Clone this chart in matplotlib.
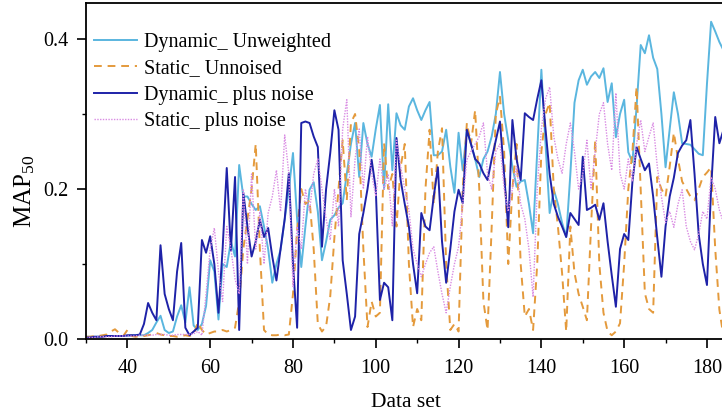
import numpy as np
import matplotlib
matplotlib.use('Agg')
import matplotlib.pyplot as plt
from matplotlib.ticker import MultipleLocator

plt.rcParams['font.family'] = ['Liberation Serif', 'DejaVu Serif']
plt.rcParams['mathtext.fontset'] = 'custom'
plt.rcParams['mathtext.rm'] = 'Liberation Serif'
plt.rcParams['mathtext.it'] = 'Liberation Serif:italic'

# data set index 30..184
data_set = list(range(30, 185))

dyn_unweighted = [
    0.003, 0.003, 0.003, 0.003, 0.004, 0.004, 0.004, 0.004, 0.004, 0.004,
    0.004, 0.005, 0.005, 0.005, 0.005, 0.008, 0.012, 0.022, 0.031, 0.012,
    0.008, 0.010, 0.030, 0.045, 0.022, 0.069, 0.018, 0.012, 0.020, 0.044,
    0.105, 0.090, 0.026, 0.100, 0.096, 0.130, 0.110, 0.232, 0.190, 0.190,
    0.180, 0.172, 0.177, 0.150, 0.120, 0.075, 0.100, 0.119, 0.160, 0.200,
    0.248, 0.160, 0.096, 0.150, 0.199, 0.209, 0.170, 0.105, 0.130, 0.159,
    0.165, 0.175, 0.181, 0.220, 0.260, 0.288, 0.216, 0.288, 0.260, 0.243,
    0.280, 0.312, 0.200, 0.313, 0.225, 0.301, 0.285, 0.279, 0.310, 0.321,
    0.305, 0.292, 0.305, 0.316, 0.245, 0.245, 0.250, 0.279, 0.230, 0.195,
    0.275, 0.225, 0.279, 0.260, 0.240, 0.216, 0.240, 0.250, 0.270, 0.300,
    0.356, 0.300, 0.265, 0.230, 0.203, 0.210, 0.212, 0.180, 0.141, 0.250,
    0.359, 0.260, 0.168, 0.199, 0.180, 0.155, 0.136, 0.220, 0.315, 0.345,
    0.359, 0.339, 0.350, 0.356, 0.348, 0.361, 0.316, 0.341, 0.269, 0.300,
    0.319, 0.249, 0.236, 0.310, 0.392, 0.381, 0.405, 0.375, 0.360, 0.300,
    0.229, 0.280, 0.329, 0.300, 0.261, 0.260, 0.259, 0.253, 0.247, 0.245,
    0.340, 0.423, 0.410, 0.396, 0.385]

static_unnoised = [
    0.003, 0.003, 0.004, 0.004, 0.005, 0.006, 0.010, 0.013, 0.008, 0.004,
    0.012, 0.004, 0.003, 0.004, 0.004, 0.005, 0.006, 0.008, 0.006, 0.005,
    0.004, 0.004, 0.003, 0.004, 0.005, 0.004, 0.006, 0.022, 0.012, 0.006,
    0.008, 0.010, 0.010, 0.012, 0.010, 0.012, 0.015, 0.050, 0.120, 0.160,
    0.200, 0.260, 0.120, 0.012, 0.006, 0.005, 0.005, 0.006, 0.005, 0.006,
    0.060, 0.145, 0.200, 0.180, 0.185, 0.120, 0.020, 0.010, 0.017, 0.057,
    0.135, 0.200, 0.265, 0.185, 0.288, 0.300, 0.252, 0.120, 0.016, 0.050,
    0.030, 0.035, 0.261, 0.200, 0.220, 0.150, 0.230, 0.260, 0.100, 0.016,
    0.040, 0.025, 0.200, 0.279, 0.180, 0.250, 0.281, 0.100, 0.012, 0.020,
    0.010, 0.200, 0.288, 0.260, 0.305, 0.200, 0.050, 0.012, 0.150, 0.300,
    0.323, 0.250, 0.100, 0.200, 0.260, 0.100, 0.030, 0.040, 0.012, 0.100,
    0.250, 0.300, 0.315, 0.200, 0.150, 0.088, 0.010, 0.150, 0.088, 0.060,
    0.043, 0.025, 0.150, 0.265, 0.100, 0.035, 0.010, 0.005, 0.010, 0.021,
    0.100, 0.200, 0.250, 0.336, 0.200, 0.061, 0.040, 0.035, 0.216, 0.200,
    0.190, 0.230, 0.275, 0.240, 0.210, 0.200, 0.190, 0.185, 0.200, 0.216,
    0.222, 0.229, 0.120, 0.039, 0.003]

dyn_plus_noise = [
    0.002, 0.002, 0.003, 0.003, 0.003, 0.004, 0.004, 0.004, 0.004, 0.004,
    0.005, 0.005, 0.005, 0.006, 0.020, 0.048, 0.035, 0.025, 0.125, 0.060,
    0.040, 0.025, 0.090, 0.128, 0.015, 0.005, 0.010, 0.015, 0.132, 0.115,
    0.137, 0.100, 0.035, 0.120, 0.228, 0.118, 0.216, 0.012, 0.195, 0.150,
    0.110, 0.130, 0.159, 0.136, 0.148, 0.110, 0.078, 0.120, 0.160, 0.221,
    0.100, 0.015, 0.288, 0.290, 0.288, 0.270, 0.256, 0.123, 0.200, 0.248,
    0.305, 0.279, 0.105, 0.060, 0.012, 0.030, 0.140, 0.168, 0.200, 0.239,
    0.200, 0.052, 0.075, 0.069, 0.025, 0.268, 0.212, 0.180, 0.150, 0.100,
    0.061, 0.168, 0.150, 0.145, 0.190, 0.229, 0.130, 0.075, 0.120, 0.170,
    0.199, 0.181, 0.279, 0.260, 0.240, 0.234, 0.221, 0.212, 0.240, 0.265,
    0.290, 0.220, 0.149, 0.292, 0.240, 0.212, 0.301, 0.296, 0.292, 0.320,
    0.345, 0.280, 0.220, 0.180, 0.163, 0.150, 0.136, 0.168, 0.160, 0.152,
    0.243, 0.172, 0.175, 0.179, 0.159, 0.181, 0.130, 0.085, 0.043, 0.120,
    0.140, 0.132, 0.210, 0.256, 0.240, 0.225, 0.234, 0.190, 0.135, 0.083,
    0.150, 0.190, 0.215, 0.248, 0.258, 0.265, 0.292, 0.220, 0.140, 0.100,
    0.072, 0.200, 0.296, 0.261, 0.279]

static_plus_noise = [
    0.002, 0.002, 0.002, 0.003, 0.003, 0.003, 0.003, 0.004, 0.004, 0.004,
    0.004, 0.004, 0.004, 0.005, 0.005, 0.005, 0.005, 0.006, 0.006, 0.006,
    0.005, 0.005, 0.006, 0.006, 0.006, 0.006, 0.007, 0.010, 0.005, 0.060,
    0.120, 0.148, 0.090, 0.050, 0.150, 0.120, 0.080, 0.060, 0.200, 0.100,
    0.220, 0.120, 0.170, 0.100, 0.168, 0.190, 0.225, 0.170, 0.272, 0.220,
    0.070, 0.150, 0.120, 0.200, 0.170, 0.220, 0.240, 0.200, 0.160, 0.132,
    0.200, 0.150, 0.280, 0.319, 0.163, 0.240, 0.280, 0.200, 0.270, 0.220,
    0.190, 0.240, 0.200, 0.220, 0.151, 0.265, 0.230, 0.200, 0.172, 0.120,
    0.100, 0.083, 0.100, 0.115, 0.123, 0.090, 0.060, 0.035, 0.070, 0.100,
    0.123, 0.180, 0.239, 0.250, 0.260, 0.270, 0.288, 0.220, 0.200, 0.250,
    0.260, 0.200, 0.170, 0.200, 0.230, 0.180, 0.160, 0.120, 0.056, 0.200,
    0.280, 0.320, 0.336, 0.270, 0.240, 0.221, 0.260, 0.288, 0.250, 0.200,
    0.220, 0.265, 0.200, 0.250, 0.300, 0.315, 0.260, 0.225, 0.328, 0.221,
    0.200, 0.240, 0.210, 0.260, 0.292, 0.250, 0.270, 0.288, 0.230, 0.190,
    0.155, 0.170, 0.149, 0.180, 0.199, 0.150, 0.130, 0.119, 0.140, 0.170,
    0.160, 0.216, 0.200, 0.172, 0.155]

fig = plt.figure(figsize=(7.22, 4.18), dpi=100)
ax = fig.add_axes([86/722, 1-339/418, 640/722, 336/418])

ax.plot(data_set, dyn_unweighted, color='#5AB6DF', lw=1.4, label='Dynamic_ Unweighted')
ax.plot(data_set, static_unnoised, color='#E49A3C', lw=1.4, ls=(0, (4, 3)), label='Static_ Unnoised')
ax.plot(data_set, dyn_plus_noise, color='#1E22A8', lw=1.4, label='Dynamic_ plus noise')
ax.plot(data_set, static_plus_noise, color='#D98BE3', lw=1.0, ls=(0, (1, 1)), label='Static_ plus noise')

ax.set_xlim(30, 184.6)
ax.set_ylim(0, 0.448)
ax.xaxis.set_minor_locator(MultipleLocator(10))
ax.set_xticks([40, 60, 80, 100, 120, 140, 160, 180])
ax.yaxis.set_minor_locator(MultipleLocator(0.1))
ax.set_yticks([0.0, 0.2, 0.4])
ax.set_yticklabels(['0.0', '0.2', '0.4'])
ax.tick_params(which='major', direction='out', length=6.5, width=1.2, labelsize=14.5)
ax.tick_params(axis='x', which='major', pad=8)
ax.tick_params(axis='y', which='major', pad=6)
ax.tick_params(which='minor', direction='out', length=3, width=1.0)
for s in ax.spines.values():
    s.set_linewidth(1.3)
ax.spines['right'].set_visible(False)

ax.set_xlabel('Data set', fontsize=15.5, labelpad=11)
ax.set_ylabel(r'MAP$_{50}$', fontsize=18)
ax.yaxis.set_label_coords(-0.077, 0.44)

ax.legend(loc='upper left', frameon=False, fontsize=14.5, handlelength=2.15,
          handletextpad=0.35, labelspacing=0.36, borderaxespad=0,
          bbox_to_anchor=(0.0, 0.935))

fig.savefig('out.png', dpi=100)
